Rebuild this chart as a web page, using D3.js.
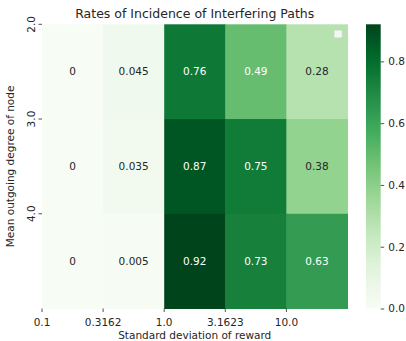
<!DOCTYPE html>
<html>
<head>
<meta charset="utf-8">
<script src="https://cdn.jsdelivr.net/npm/d3@7"></script>
<style>
  html, body { margin: 0; padding: 0; background: #fff; }
  svg text { font-family: "DejaVu Sans", sans-serif; fill: #262626; }
</style>
</head>
<body>
<svg id="chart" width="406" height="341"></svg>
<script>
// Incidence rates: rows = mean outgoing degree, columns = reward std-dev
const degreeLabels = ["2.0", "3.0", "4.0"];
const stdLabels = ["0.1", "0.3162", "1.0", "3.1623", "10.0"];
const rates = [
  [0, 0.045, 0.76, 0.49, 0.28],
  [0, 0.035, 0.87, 0.75, 0.38],
  [0, 0.005, 0.92, 0.73, 0.63]
];
const colorbarTicks = [0.0, 0.2, 0.4, 0.6, 0.8];
const vMin = 0, vMax = 0.92;

const greens = ["#f7fcf5", "#e5f5e0", "#c7e9c0", "#a1d99b", "#74c476",
                "#41ab5d", "#238b45", "#006d2c", "#00441b"];
const color = d3.scaleLinear()
  .domain(d3.range(greens.length).map(i => vMin + (vMax - vMin) * i / (greens.length - 1)))
  .range(greens)
  .interpolate(d3.interpolateRgb)
  .clamp(true);

const FS = "10.5px";
const svg = d3.select("#chart");
const plot = { left: 42, right: 347.5, top: 24.3, bottom: 308.5 };

const x = d3.scaleBand().domain(d3.range(stdLabels.length))
  .range([plot.left, plot.right]).padding(0);
const y = d3.scaleBand().domain(d3.range(degreeLabels.length))
  .range([plot.top, plot.bottom]).padding(0);

const cells = [];
rates.forEach((row, r) => row.forEach((v, c) => cells.push({ r, c, v })));

svg.append("g").selectAll("rect").data(cells).join("rect")
  .attr("x", d => x(d.c))
  .attr("y", d => y(d.r))
  .attr("width", x.bandwidth() + 0.5)
  .attr("height", y.bandwidth() + 0.5)
  .attr("fill", d => color(d.v));

function lum(c) {
  const rgb = d3.rgb(c);
  const f = v => { v /= 255; return v <= 0.03928 ? v / 12.92 : Math.pow((v + 0.055) / 1.055, 2.4); };
  return 0.2126 * f(rgb.r) + 0.7152 * f(rgb.g) + 0.0722 * f(rgb.b);
}

svg.append("g").selectAll("text").data(cells).join("text")
  .attr("x", d => x(d.c) + x.bandwidth() / 2)
  .attr("y", d => y(d.r) + y.bandwidth() / 2)
  .attr("dy", "0.36em")
  .attr("text-anchor", "middle")
  .style("font-size", FS)
  .style("fill", d => lum(color(d.v)) > 0.408 ? "#262626" : "#ffffff")
  .text(d => d3.format("~g")(d.v));

// X axis: labels sit at the left edge of each column
const xTicks = svg.append("g");
stdLabels.forEach((lab, i) => {
  const px = x(i);
  xTicks.append("line").attr("x1", px).attr("x2", px)
    .attr("y1", plot.bottom).attr("y2", plot.bottom + 3.5)
    .attr("stroke", "#262626").attr("stroke-width", 0.8);
  xTicks.append("text").attr("x", px).attr("y", plot.bottom + 17.5)
    .attr("text-anchor", "middle").style("font-size", FS).text(lab);
});
svg.append("text").attr("x", (plot.left + plot.right) / 2).attr("y", 339)
  .attr("text-anchor", "middle").style("font-size", FS)
  .text("Standard deviation of reward");

// Y axis: labels sit at the top edge of each row, rotated
const yTicks = svg.append("g");
degreeLabels.forEach((lab, i) => {
  const py = y(i);
  yTicks.append("line").attr("x1", plot.left - 3.5).attr("x2", plot.left)
    .attr("y1", py).attr("y2", py)
    .attr("stroke", "#262626").attr("stroke-width", 0.8);
  yTicks.append("text")
    .attr("transform", `translate(${plot.left - 7},${py}) rotate(-90)`)
    .attr("text-anchor", "middle").style("font-size", FS).text(lab);
});
svg.append("text")
  .attr("transform", `translate(14,${(plot.top + plot.bottom) / 2}) rotate(-90)`)
  .attr("text-anchor", "middle").style("font-size", FS)
  .text("Mean outgoing degree of node");

// Title
svg.append("text").attr("x", (plot.left + plot.right) / 2).attr("y", 17.5)
  .attr("text-anchor", "middle").style("font-size", "12.5px")
  .text("Rates of Incidence of Interfering Paths");

// Empty legend frame
svg.append("rect").attr("x", 334).attr("y", 30).attr("width", 8.3).attr("height", 8)
  .attr("rx", 1.5).attr("fill", "#ffffff").attr("fill-opacity", 0.8)
  .attr("stroke", "#cccccc").attr("stroke-width", 0.8);

// Colour bar
const cb = { x: 366, w: 14.7, top: plot.top, bottom: plot.bottom };
const cbScale = d3.scaleLinear().domain([vMin, vMax]).range([cb.bottom, cb.top]);
const defs = svg.append("defs");
const grad = defs.append("linearGradient").attr("id", "cbgrad")
  .attr("x1", 0).attr("y1", 1).attr("x2", 0).attr("y2", 0);
d3.range(0, 1.0001, 0.05).forEach(t => {
  grad.append("stop").attr("offset", t).attr("stop-color", color(vMin + t * (vMax - vMin)));
});
svg.append("rect").attr("x", cb.x).attr("y", cb.top)
  .attr("width", cb.w).attr("height", cb.bottom - cb.top)
  .attr("fill", "url(#cbgrad)");
const cbAxis = d3.axisRight(cbScale).tickValues(colorbarTicks)
  .tickFormat(d3.format(".1f")).tickSize(3.5).tickPadding(4);
const cbG = svg.append("g").attr("transform", `translate(${cb.x + cb.w},0)`).call(cbAxis);
cbG.select(".domain").remove();
cbG.selectAll("line").attr("stroke", "#262626").attr("stroke-width", 0.8);
cbG.selectAll("text").style("font-size", FS).style("font-family", "DejaVu Sans, sans-serif").attr("fill", "#262626");
</script>
</body>
</html>
